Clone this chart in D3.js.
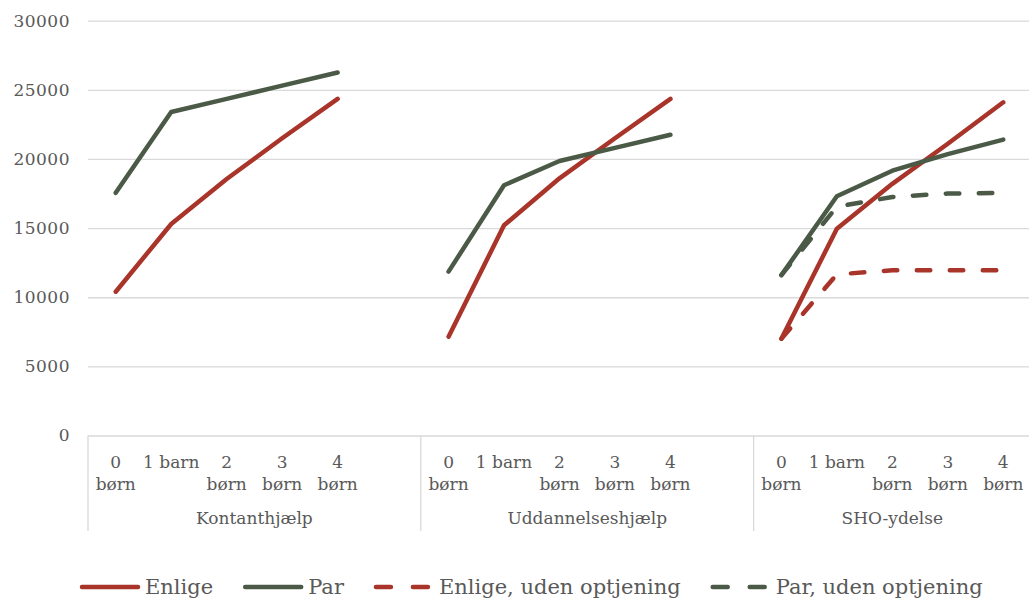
<!DOCTYPE html>
<html>
<head>
<meta charset="utf-8">
<script src="https://cdn.jsdelivr.net/npm/d3@7"></script>
<style>
  html, body { margin: 0; padding: 0; background: #fff; }
  svg { display: block; }
  text { font-family: "DejaVu Serif", Georgia, serif; fill: #595959; }
</style>
</head>
<body>
<svg id="chart" width="1029" height="598"></svg>
<script>
// Benefit groups and household categories
const groups = ["Kontanthjælp", "Uddannelseshjælp", "SHO-ydelse"];
const children = ["0 børn", "1 barn", "2 børn", "3 børn", "4 børn"];
// Category labels as they wrap under each tick
const childLabelLines = [["0", "børn"], ["1 barn"], ["2", "børn"], ["3", "børn"], ["4", "børn"]];

// Monthly amounts (kr.) per group, one value per category
const enlige = [
  [10400, 15300, 18550, 21500, 24350],
  [7150, 15200, 18600, 21500, 24350],
  [7000, 14950, 18200, 21100, 24100]
];
const par = [
  [17550, 23400, 24350, 25300, 26250],
  [11850, 18100, 19850, 20800, 21750],
  [11600, 17300, 19150, 20350, 21400]
];
// Only shown for SHO-ydelse
const enligeUdenOptjening = [null, null, [7000, 11650, 11950, 11950, 11950]];
const parUdenOptjening = [null, null, [11600, 16550, 17250, 17500, 17550]];

const yTicks = [0, 5000, 10000, 15000, 20000, 25000, 30000];

const seriesList = [
  { name: "Enlige", values: enlige, color: "#A9342A", dashed: false },
  { name: "Par", values: par, color: "#4B5A46", dashed: false },
  { name: "Enlige, uden optjening", values: enligeUdenOptjening, color: "#A9342A", dashed: true },
  { name: "Par, uden optjening", values: parUdenOptjening, color: "#4B5A46", dashed: true }
];

const W = 1029, H = 598;
const plotLeft = 88, plotRight = 1031, plotTop = 20.7, plotBottom = 435.5;
const svg = d3.select("#chart");
svg.append("rect").attr("width", W).attr("height", H).attr("fill", "#fff");

// Category slots: five per group with an empty slot between groups
const slots = [];
groups.forEach((g, gi) => {
  children.forEach(c => slots.push(g + "|" + c));
  if (gi < groups.length - 1) slots.push("gap" + gi);
});

const x = d3.scaleBand().domain(slots).range([plotLeft, plotRight]).padding(0);
const y = d3.scaleLinear().domain([0, 30000]).range([plotBottom, plotTop]);
const cx = key => x(key) + x.bandwidth() / 2;

// Y axis with horizontal gridlines
const yAxis = svg.append("g")
  .attr("transform", `translate(${plotLeft},0)`)
  .call(d3.axisLeft(y).tickValues(yTicks).tickSize(-(W - plotLeft)).tickPadding(18).tickFormat(d3.format("d")));
yAxis.select(".domain").remove();
yAxis.selectAll(".tick line").attr("stroke", "#D9D9D9").attr("stroke-width", 1.3);
yAxis.selectAll(".tick text")
  .style("font-family", '"DejaVu Serif", Georgia, serif')
  .style("font-size", "17px")
  .style("letter-spacing", "0.5px")
  .attr("fill", "#595959");

// Multi-level category axis
const axisG = svg.append("g");
const sepBottom = 531;
groups.forEach((g, gi) => {
  const first = x(g + "|" + children[0]);
  const lastKey = gi < groups.length - 1 ? "gap" + gi : g + "|" + children[children.length - 1];
  const end = x(lastKey) + x.bandwidth();
  axisG.append("line")
    .attr("x1", first).attr("x2", first)
    .attr("y1", plotBottom).attr("y2", sepBottom)
    .attr("stroke", "#D9D9D9").attr("stroke-width", 1.3);
  axisG.append("text")
    .attr("x", (first + end) / 2).attr("y", 518)
    .attr("text-anchor", "middle").attr("dominant-baseline", "central")
    .style("font-size", "17px")
    .text(g);
  children.forEach((c, ci) => {
    const t = axisG.append("text")
      .attr("x", cx(g + "|" + c))
      .attr("text-anchor", "middle")
      .style("font-size", "17px");
    childLabelLines[ci].forEach((line, li) => {
      t.append("tspan")
        .attr("x", cx(g + "|" + c))
        .attr("y", 462 + li * 22)
        .attr("dominant-baseline", "central")
        .text(line);
    });
  });
});

// Lines, drawn separately for each group
const lineGen = d3.line()
  .x(d => cx(d.key))
  .y(d => y(d.value));

const plot = svg.append("g");
seriesList.forEach(s => {
  groups.forEach((g, gi) => {
    const vals = s.values[gi];
    if (!vals) return;
    const pts = vals.map((v, ci) => ({ key: g + "|" + children[ci], value: v }));
    plot.append("path")
      .datum(pts)
      .attr("d", lineGen)
      .attr("fill", "none")
      .attr("stroke", s.color)
      .attr("stroke-width", 4.5)
      .attr("stroke-linejoin", "round")
      .attr("stroke-linecap", "round")
      .attr("stroke-dasharray", s.dashed ? "13.5,19.5" : null);
  });
});

// Legend
const legend = svg.append("g");
let lx = 80;
const ly = 587;
seriesList.forEach(s => {
  legend.append("line")
    .attr("x1", lx + 2).attr("x2", lx + 58)
    .attr("y1", ly).attr("y2", ly)
    .attr("stroke", s.color)
    .attr("stroke-width", 4.5)
    .attr("stroke-linecap", "round")
    .attr("stroke-dasharray", s.dashed ? "15,22" : null);
  const t = legend.append("text")
    .attr("x", lx + 65).attr("y", ly)
    .attr("dominant-baseline", "central")
    .style("font-size", "21px")
    .text(s.name);
  lx = lx + 65 + t.node().getComputedTextLength() + 30;
});
</script>
</body>
</html>
